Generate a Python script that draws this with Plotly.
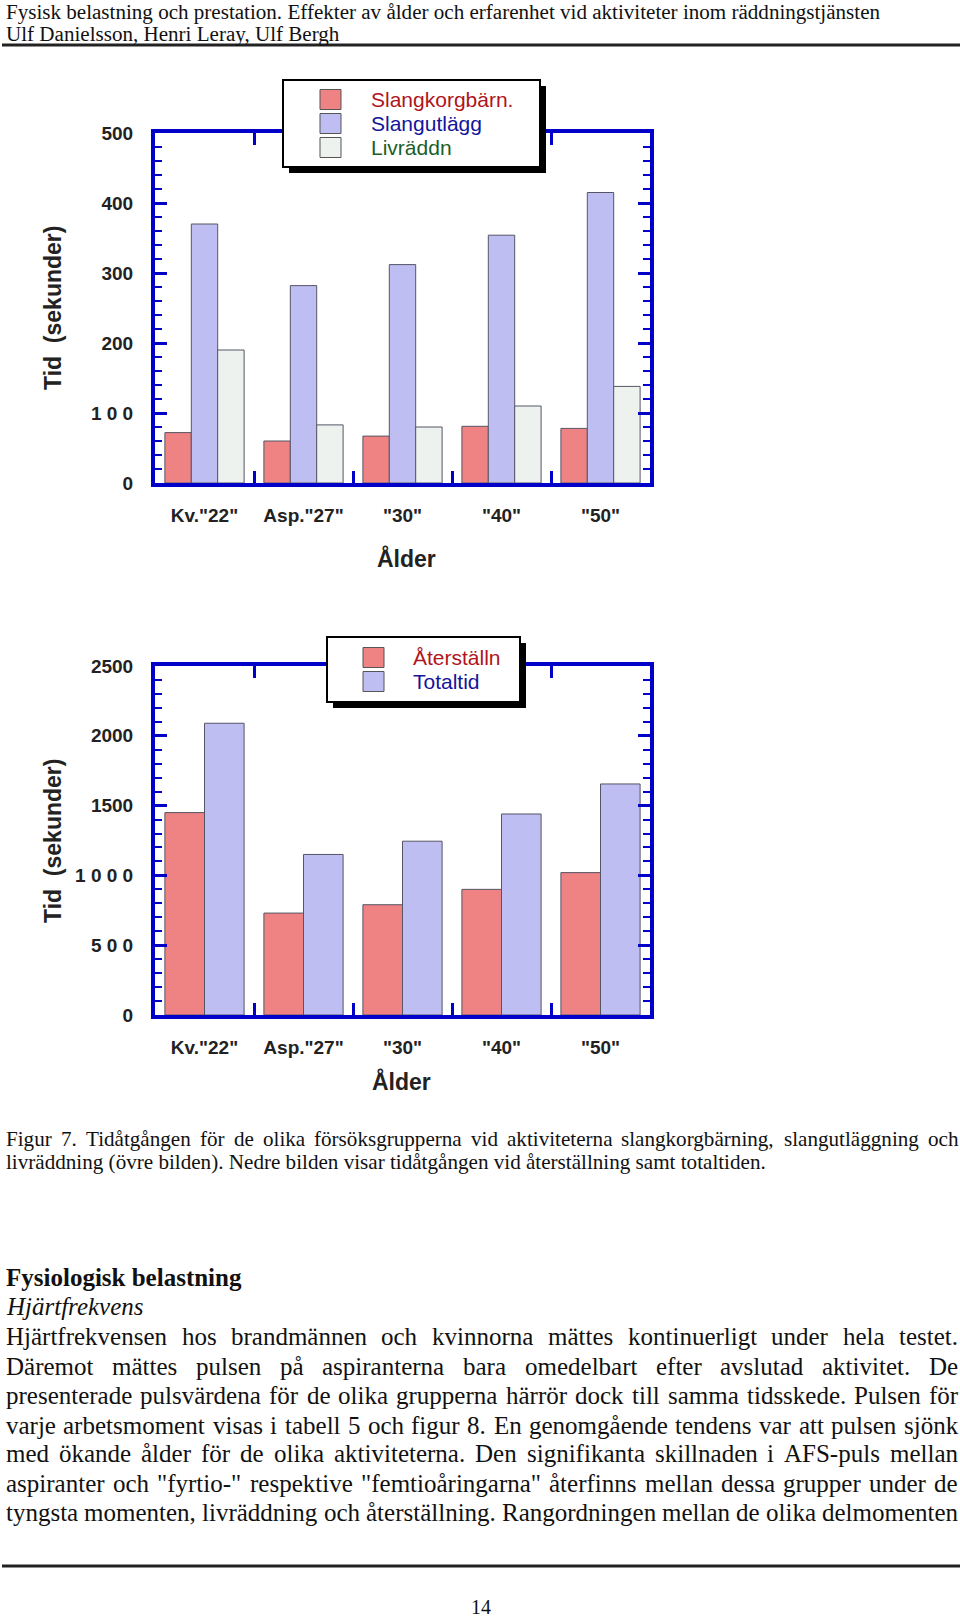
import plotly.graph_objects as go

# ---------------- data ----------------
categories = ['Kv."22"', 'Asp."27"', '"30"', '"40"', '"50"']

top_slangkorg = [72, 60, 67, 81, 78]
top_slangutlagg = [370, 282, 312, 354, 415]
top_livraddn = [190, 83, 80, 110, 138]

bot_aterstalln = [1450, 730, 790, 900, 1020]
bot_totaltid = [2090, 1150, 1245, 1440, 1655]

top_yticks = [0, 100, 200, 300, 400, 500]
top_yticktext = ['0', '1 0 0', '200', '300', '400', '500']
bot_yticks = [0, 500, 1000, 1500, 2000, 2500]
bot_yticktext = ['0', '5 0 0', '1 0 0 0', '1500', '2000', '2500']

top_series_names = ['Slangkorgbärn.', 'Slangutlägg', 'Livräddn']
bot_series_names = ['Återställn', 'Totaltid']

header_lines = [
    "Fysisk belastning och prestation. Effekter av ålder och erfarenhet vid aktiviteter inom räddningstjänsten",
    "Ulf Danielsson, Henri Leray, Ulf Bergh",
]
caption_lines = [
    "Figur 7. Tidåtgången för de olika försöksgrupperna vid aktiviteterna slangkorgbärning, slangutläggning och",
    "livräddning (övre bilden). Nedre bilden visar tidåtgången vid återställning samt totaltiden.",
]
heading = "Fysiologisk belastning"
subheading = "Hjärtfrekvens"
body_lines = [
    "Hjärtfrekvensen hos brandmännen och kvinnorna mättes kontinuerligt under hela testet.",
    "Däremot mättes pulsen på aspiranterna bara omedelbart efter avslutad aktivitet. De",
    "presenterade pulsvärdena för de olika grupperna härrör dock till samma tidsskede. Pulsen för",
    "varje arbetsmoment visas i tabell 5 och figur 8. En genomgående tendens var att pulsen sjönk",
    "med ökande ålder för de olika aktiviteterna. Den signifikanta skillnaden i AFS-puls mellan",
    "aspiranter och \"fyrtio-\" respektive \"femtioåringarna\" återfinns mellan dessa grupper under de",
    "tyngsta momenten, livräddning och återställning. Rangordningen mellan de olika delmomenten",
]
page_number = "14"

# ---------------- styles ----------------
W, H = 960, 1619
RED = '#EF8282'
BLUE = '#BEBEF2'
PALE = '#EEF2EE'
BAR_LINE = '#555566'
FRAME = '#0000C8'
SANS = 'Liberation Sans'
SERIF = 'Liberation Serif'


def px(x):
    return x / W


def py(y):
    return 1 - y / H


# Times New Roman advance widths (Liberation Serif is metric compatible)
_TW = {' ': 250, '"': 408, "'": 180, '(': 333, ')': 333, ',': 250, '-': 333, '.': 250,
       ':': 278, ';': 278, '/': 278}
for c in '0123456789':
    _TW[c] = 500
_up = dict(A=722, B=667, C=667, D=722, E=611, F=556, G=722, H=722, I=333, J=389, K=722, L=611,
           M=889, N=722, O=722, P=556, Q=722, R=667, S=556, T=611, U=722, V=722, W=944, X=722,
           Y=722, Z=611)
_lo = dict(a=444, b=500, c=444, d=500, e=444, f=333, g=500, h=500, i=278, j=278, k=500, l=278,
           m=778, n=500, o=500, p=500, q=500, r=333, s=389, t=278, u=500, v=500, w=722, x=500,
           y=500, z=444)
_TW.update(_up)
_TW.update(_lo)
_TW.update({'å': 444, 'ä': 444, 'ö': 500, 'Å': 722, 'Ä': 722, 'Ö': 722, 'é': 444})


def tw(s, size):
    return sum(_TW.get(ch, 500) for ch in s) * size / 1000.0


annotations = []
shapes = []


def text_ann(txt, x, y, size, family=SERIF, color='#111', xanchor='left', weight='normal',
             style='normal', angle=0):
    annotations.append(dict(
        text=txt, x=px(x), y=py(y), xref='paper', yref='paper', xanchor=xanchor,
        yanchor='middle', showarrow=False, textangle=angle, borderpad=0,
        font=dict(family=family, size=size, color=color, weight=weight, style=style)))


def justified(line, y, size, x0=5, x1=957):
    words = line.split(' ')
    total = sum(tw(w, size) for w in words)
    gap = (x1 - x0 - total) / (len(words) - 1)
    x = x0
    for w in words:
        text_ann(w, x, y, size)
        x += tw(w, size) + gap


# ---------------- figure ----------------
fig = go.Figure()
top_series = [top_slangkorg, top_slangutlagg, top_livraddn]
top_colors = [RED, BLUE, PALE]
for name, vals, col in zip(top_series_names, top_series, top_colors):
    fig.add_trace(go.Bar(x=categories, y=vals, name=name, marker_color=col,
                         marker_line=dict(color=BAR_LINE, width=1), xaxis='x', yaxis='y',
                         showlegend=False, hoverinfo='skip'))

bot_series = [bot_aterstalln, bot_totaltid]
bot_colors = [RED, BLUE]
for name, vals, col in zip(bot_series_names, bot_series, bot_colors):
    fig.add_trace(go.Bar(x=categories, y=vals, name=name, marker_color=col,
                         marker_line=dict(color=BAR_LINE, width=1), xaxis='x2', yaxis='y2',
                         showlegend=False, hoverinfo='skip'))

tickfont = dict(family=SANS, size=19, color='#222', weight='bold')


def xaxis_cfg(anchor):
    return dict(anchor=anchor, domain=[px(155), px(650)], type='category', range=[-0.5, 4.5],
                showline=True, linewidth=4, linecolor=FRAME, mirror='ticks',
                ticks='inside', tickson='boundaries', ticklen=12, tickwidth=3, tickcolor=FRAME,
                showgrid=False, zeroline=False, tickfont=tickfont, ticklabelstandoff=12,
                automargin=False, fixedrange=True)


def yaxis_cfg(anchor, dom, rng, vals, txt, minor_dt):
    return dict(anchor=anchor, domain=dom, range=rng, showline=True, linewidth=4,
                linecolor=FRAME, mirror='ticks', ticks='inside', ticklen=12, tickwidth=3,
                tickcolor=FRAME, tickmode='array', tickvals=vals, ticktext=txt,
                minor=dict(ticks='inside', ticklen=7, tickwidth=2, tickcolor=FRAME,
                           tickmode='linear', tick0=0, dtick=minor_dt, showgrid=False),
                showgrid=False, zeroline=False, tickfont=tickfont, ticklabelstandoff=14,
                automargin=False, fixedrange=True)


fig.update_layout(
    template='none',
    width=W, height=H, autosize=False, showlegend=False,
    margin=dict(l=0, r=0, t=0, b=0, pad=0, autoexpand=False),
    paper_bgcolor='white', plot_bgcolor='white',
    barmode='group', bargap=0.2, bargroupgap=0,
    xaxis=xaxis_cfg('y'),
    yaxis=yaxis_cfg('x', [py(483), py(133)], [0, 500], top_yticks, top_yticktext, 20),
    xaxis2=xaxis_cfg('y2'),
    yaxis2=yaxis_cfg('x2', [py(1015), py(666)], [0, 2500], bot_yticks, bot_yticktext, 100),
)

# axis titles
text_ann('Tid  (sekunder)', 53, 308, 23, family=SANS, color='#222', xanchor='center',
         weight='bold', angle=-90)
text_ann('Tid  (sekunder)', 53, 841, 23, family=SANS, color='#222', xanchor='center',
         weight='bold', angle=-90)
text_ann('Ålder', 406, 558, 23, family=SANS, color='#222', xanchor='center', weight='bold')
text_ann('Ålder', 401, 1081, 23, family=SANS, color='#222', xanchor='center', weight='bold')


# legends (drawn boxes with shadow)
def legend_box(x0, y0, x1, y1, names, colors, text_colors, sw_x, text_x, row_y):
    shapes.append(dict(type='rect', xref='paper', yref='paper', x0=px(x0 + 6), x1=px(x1 + 6),
                       y0=py(y1 + 6), y1=py(y0 + 6), fillcolor='black', line_width=0,
                       layer='above'))
    shapes.append(dict(type='rect', xref='paper', yref='paper', x0=px(x0), x1=px(x1),
                       y0=py(y1), y1=py(y0), fillcolor='white',
                       line=dict(color='black', width=2), layer='above'))
    for nm, col, tcol, yc in zip(names, colors, text_colors, row_y):
        shapes.append(dict(type='rect', xref='paper', yref='paper', x0=px(sw_x),
                           x1=px(sw_x + 21), y0=py(yc + 10), y1=py(yc - 10), fillcolor=col,
                           line=dict(color='#555555', width=1), layer='above'))
        text_ann(nm, text_x, yc, 21, family=SANS, color=tcol)


legend_box(283, 80, 540, 167, top_series_names, top_colors,
           ['#B0141C', '#14149A', '#1B5E28'], 320, 370, [99.5, 123.5, 147.5])
legend_box(327, 637, 520, 702, bot_series_names, bot_colors,
           ['#B0141C', '#14149A'], 363, 412, [657.5, 681.5])

# page header
hdr_size = 875 / tw(header_lines[0], 1)
text_ann(header_lines[0], 5, 12, hdr_size)
text_ann(header_lines[1], 5, 34, hdr_size)
shapes.append(dict(type='line', xref='paper', yref='paper', x0=px(2), x1=px(960),
                   y0=py(45), y1=py(45), line=dict(color='#222', width=3)))

# caption
cap_size = 760 / tw(caption_lines[1], 1)
justified(caption_lines[0], 1139, cap_size)
text_ann(caption_lines[1], 5, 1162, cap_size)

# section text
text_ann(heading, 5, 1277, 25, weight='bold')
text_ann(subheading, 5, 1306, 25, style='italic')
body_y = [1336, 1366, 1395, 1425, 1453, 1483, 1512]
for ln, yy in zip(body_lines, body_y):
    justified(ln, yy, 25)

shapes.append(dict(type='line', xref='paper', yref='paper', x0=px(2), x1=px(960),
                   y0=py(1566), y1=py(1566), line=dict(color='#222', width=3)))
text_ann(page_number, 481, 1607, 20, xanchor='center')

fig.update_layout(annotations=annotations, shapes=shapes)

fig.write_html("out.html", config={'displayModeBar': False, 'staticPlot': True},
               post_script="document.body.style.margin='0';")
